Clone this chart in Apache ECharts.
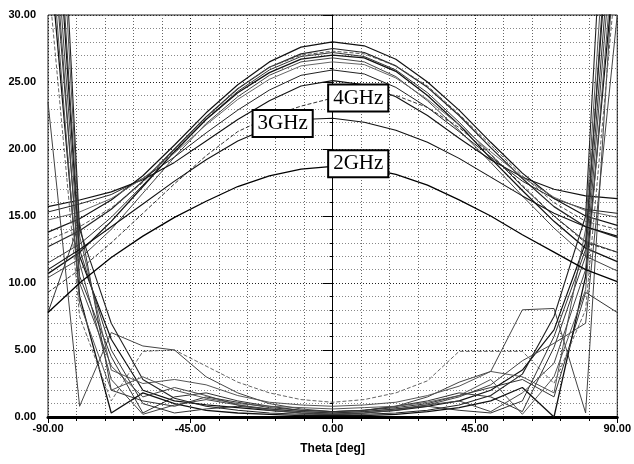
<!DOCTYPE html>
<html>
<head>
<meta charset="utf-8">
<script src="https://cdn.jsdelivr.net/npm/echarts@6/dist/echarts.min.js"></script>
<style>
  html, body { margin: 0; padding: 0; background: #fff; }
  #chart { width: 634px; height: 464px; }
</style>
</head>
<body>
<div id="chart"></div>
<script>
// theta samples (deg)
const theta = [-90, -80, -70, -60, -50, -40, -30, -20, -10, 0, 10, 20, 30, 40, 50, 60, 70, 80, 90]

// main lobes, higher frequencies
const lobeA = [13.8, 14.8, 16.2, 18.0, 20.3, 22.7, 24.8, 26.5, 27.6, 28.0, 27.7, 26.7, 25.0, 22.9, 20.5, 18.2, 16.3, 15.0, 14.3]
const lobeB = [12.7, 13.9, 15.5, 17.6, 20.0, 22.4, 24.5, 26.1, 27.1, 27.5, 27.2, 26.2, 24.6, 22.5, 20.1, 17.8, 15.7, 14.2, 13.4]
const lobeC = [11.5, 12.9, 14.9, 17.3, 19.8, 22.2, 24.3, 25.9, 26.9, 27.2, 26.9, 25.9, 24.2, 22.0, 19.6, 17.2, 15.0, 13.1, 12.3]
const lobeD = [10.7, 12.3, 14.6, 17.2, 19.8, 22.2, 24.2, 25.7, 26.7, 27.0, 26.8, 25.8, 24.0, 21.8, 19.3, 16.9, 14.6, 12.6, 11.6]
const lobeE = [10.4, 11.8, 14.0, 16.7, 19.4, 21.9, 23.9, 25.5, 26.5, 26.8, 26.5, 25.4, 23.6, 21.4, 19.0, 16.5, 14.1, 12.0, 10.9]
const lobeF = [13.2, 14.2, 15.6, 17.5, 19.9, 22.3, 24.5, 26.1, 27.0, 27.3, 27.1, 26.2, 24.7, 22.6, 20.3, 18.0, 16.0, 14.6, 14.0]
const lobeG = [15.3, 15.9, 16.6, 17.8, 19.4, 21.2, 22.9, 24.4, 25.5, 25.9, 25.6, 24.6, 23.1, 21.3, 19.4, 17.6, 16.3, 15.5, 15.2]
const lobeH = [15.7, 16.2, 16.8, 17.7, 19.0, 20.6, 22.2, 23.6, 24.7, 25.1, 24.8, 23.9, 22.5, 20.8, 19.2, 17.9, 17.0, 16.5, 16.3]
const lobeI = [14.7, 15.3, 16.3, 17.8, 19.7, 21.8, 23.7, 25.2, 26.2, 26.5, 26.3, 25.3, 23.7, 21.8, 19.8, 17.9, 16.4, 15.4, 14.9]

// labelled curves
const ghz4 = [9.3, 11.0, 13.0, 15.2, 17.4, 19.5, 21.3, 22.4, 23.2, 23.8, 24.1, 24.0, 23.1, 21.6, 19.6, 17.3, 15.0, 13.0, 12.3]
const ghz3 = [11.0, 12.5, 14.2, 15.9, 17.6, 19.2, 20.6, 21.6, 22.2, 22.3, 22.0, 21.4, 20.5, 19.3, 17.9, 16.5, 15.2, 14.2, 13.5]
const ghz2 = [7.8, 10.0, 11.9, 13.5, 14.9, 16.1, 17.2, 18.0, 18.5, 18.7, 18.6, 18.1, 17.3, 16.2, 15.0, 13.6, 12.3, 11.0, 10.1]

// low curves (steep at the edges)
const lowA = [23.5, 0.8, 6.3, 5.3, 5.0, 3.0, 1.8, 1.0, 0.6, 0.4, 0.5, 0.8, 1.5, 2.6, 3.4, 8.0, 8.1, 0.3, 38]
const lowB = [7.8, 14.5, 2.0, 1.2, 0.8, 1.5, 1.1, 0.7, 0.5, 0.4, 0.5, 0.7, 1.0, 1.6, 2.2, 2.8, 1.5, 9.3, 7.8]
const lowC = [48, 12.0, 5.8, 2.0, 1.2, 0.9, 0.7, 0.5, 0.3, 0.2, 0.3, 0.5, 0.8, 1.2, 2.0, 3.5, 6.5, 13.0, 45]
const lowD = [40, 10.5, 4.5, 0.3, 1.5, 1.8, 1.2, 0.8, 0.5, 0.4, 0.5, 0.8, 1.2, 1.8, 1.5, 0.4, 5.2, 12.0, 42]
const lowE = [55, 13.5, 3.5, 2.5, 2.8, 2.4, 1.6, 1.1, 0.9, 0.8, 0.9, 1.1, 1.6, 2.3, 3.4, 3.0, 1.8, 14.0, 50]
const lowF = [36, 9.0, 0.3, 1.8, 1.0, 0.5, 0.3, 0.2, 0.1, 0.1, 0.1, 0.2, 0.4, 0.7, 1.2, 2.2, 0.0, 10.5, 36]
const lowG = [44, 11.5, 2.8, 0.2, 0.9, 1.3, 0.9, 0.6, 0.4, 0.3, 0.4, 0.6, 0.9, 1.2, 0.4, 1.8, 4.0, 11.0, 40]
const lowH = [33, 7.5, 1.2, 4.9, 5.0, 3.8, 2.6, 1.8, 1.3, 1.1, 1.3, 1.8, 2.7, 4.9, 4.9, 4.9, 2.5, 8.0, 34]
const lowI = [60, 14.0, 7.0, 2.8, 1.4, 0.8, 0.5, 0.3, 0.2, 0.2, 0.2, 0.3, 0.5, 0.9, 1.6, 3.2, 7.5, 15.0, 58]
const lowJ = [38, 8.5, 2.0, 3.0, 2.0, 1.4, 1.0, 0.8, 0.7, 0.6, 0.7, 0.8, 1.1, 1.6, 2.8, 0.2, 3.0, 9.5, 38]
const lowK = [50, 12.5, 5.0, 1.0, 0.3, 0.6, 0.8, 0.6, 0.4, 0.3, 0.4, 0.6, 0.8, 0.5, 0.3, 1.2, 6.0, 12.5, 47]
const lowL = [42, 10.0, 3.8, 1.5, 2.2, 1.6, 0.9, 0.5, 0.3, 0.2, 0.3, 0.5, 0.9, 1.5, 2.4, 4.2, 5.5, 7.0, 30]

// where the frequency tags sit (theta, dB)
const tag4 = [8.1, 23.8]
const tag3 = [-15.8, 21.9]
const tag2 = [8.1, 18.9]

const pts = arr => theta.map((t, i) => [t, arr[i]])

const tagStyle = {
  show: true,
  position: 'inside',
  fontFamily: 'Liberation Serif',
  fontSize: 21,
  color: '#000',
  backgroundColor: '#fff',
  borderColor: '#000',
  borderWidth: 2,
  padding: [3, 4, 1, 4]
}

function line(arr, color, width, type, tag, tagText) {
  const s = {
    type: 'line',
    data: pts(arr),
    symbol: 'none',
    silent: true,
    clip: true,
    lineStyle: { color: color, width: width, type: type || 'solid' }
  }
  if (tag) {
    s.markPoint = {
      symbol: 'rect',
      symbolSize: 0,
      silent: true,
      data: [{ coord: tag, value: tagText, label: Object.assign({ formatter: tagText }, tagStyle) }]
    }
  }
  return s
}

const series = [
  line(lobeA, '#111', 1.2),
  line(lobeB, '#222', 1.2),
  line(lobeC, '#333', 1),
  line(lobeD, '#111', 1.3),
  line(lobeE, '#444', 1),
  line(lobeF, '#555', 1, 'dashed'),
  line(lobeG, '#222', 1),
  line(lobeH, '#111', 1.1),
  line(lobeI, '#666', 1),
  line(lowA, '#444', 1),
  line(lowB, '#333', 1),
  line(lowC, '#111', 1.2),
  line(lowD, '#333', 1),
  line(lowE, '#555', 1),
  line(lowF, '#111', 1.3),
  line(lowG, '#444', 1),
  line(lowH, '#666', 1, 'dashed'),
  line(lowI, '#222', 1.1),
  line(lowJ, '#555', 1),
  line(lowK, '#333', 1),
  line(lowL, '#444', 1),
  line(ghz4, '#333', 1, 'dashed', tag4, '4GHz'),
  line(ghz3, '#111', 1.1, 'solid', tag3, '3GHz'),
  line(ghz2, '#000', 1.3, 'solid', tag2, '2GHz')
]

const axisFont = { fontFamily: 'Liberation Sans', fontWeight: 'bold', fontSize: 11, color: '#000' }

const chart = echarts.init(document.getElementById('chart'), null, { renderer: 'canvas' })
chart.setOption({
  animation: false,
  backgroundColor: '#fff',
  grid: {
    left: 48, right: 11, top: 15, bottom: 47,
    show: true, borderColor: '#222', borderWidth: 1
  },
  xAxis: {
    type: 'value',
    min: -90, max: 90, interval: 45,
    name: 'Theta [deg]',
    nameLocation: 'middle',
    nameGap: 26,
    nameTextStyle: Object.assign({}, axisFont, { fontSize: 12 }),
    axisLine: { onZero: false, lineStyle: { color: '#000', width: 3 } },
    axisTick: { length: 6, lineStyle: { color: '#000' } },
    minorTick: { show: true, splitNumber: 5, length: 4, lineStyle: { color: '#000' } },
    axisLabel: Object.assign({ margin: 6, formatter: v => v.toFixed(2) }, axisFont),
    splitLine: { show: true, lineStyle: { color: '#222', type: [1, 2] } },
    minorSplitLine: { show: true, lineStyle: { color: '#666', type: [1, 2] } }
  },
  yAxis: {
    type: 'value',
    min: 0, max: 30, interval: 5,
    axisLine: { show: true, lineStyle: { color: '#000', width: 1 } },
    axisTick: { length: 10, lineStyle: { color: '#000' } },
    minorTick: { show: true, splitNumber: 5, length: 3, lineStyle: { color: '#000' } },
    axisLabel: Object.assign({ margin: 12, formatter: v => v.toFixed(2) }, axisFont),
    splitLine: { show: true, lineStyle: { color: '#222', type: [1, 2] } },
    minorSplitLine: { show: true, lineStyle: { color: '#888', type: [1, 2] } }
  },
  series: series
})
</script>
</body>
</html>
